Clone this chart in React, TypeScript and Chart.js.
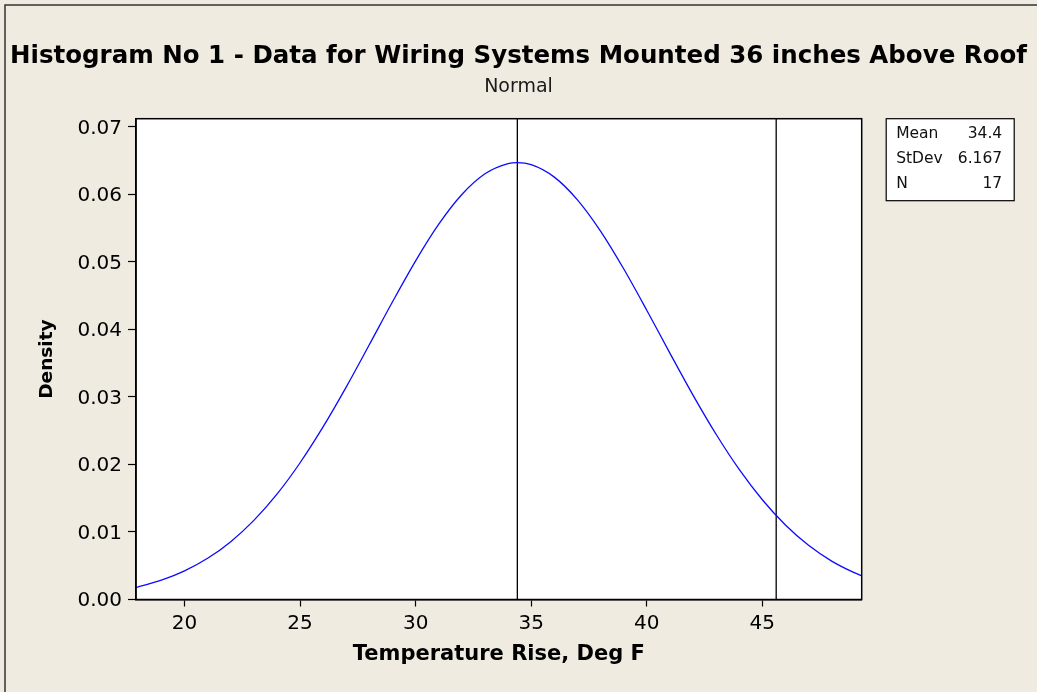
import React, { useEffect, useRef } from "react";
import { Chart, registerables } from "chart.js";

Chart.register(...registerables);

// ---- data ----
const titleText = "Histogram No 1 - Data for Wiring Systems Mounted 36 inches Above Roof";
const subtitleText = "Normal";
const xAxisTitle = "Temperature Rise, Deg F";
const yAxisTitle = "Density";

const temperature = [
  17.9, 18, 19, 20, 21, 22, 23, 24, 25, 26, 27, 28, 29, 30, 31, 32, 33, 34, 34.4,
  35, 36, 37, 38, 39, 40, 41, 42, 43, 44, 45, 46, 47, 48, 49, 49.3,
];
const density = [
  0.0018, 0.00188, 0.00286, 0.00424, 0.0061, 0.00857, 0.01172, 0.0156, 0.02025,
  0.02559, 0.03149, 0.03776, 0.04409, 0.05015, 0.05557, 0.05997, 0.06304, 0.06455,
  0.06469, 0.06439, 0.06255, 0.05919, 0.05456, 0.04898, 0.04284, 0.03649, 0.03027,
  0.02447, 0.01926, 0.01477, 0.01103, 0.00802, 0.00569, 0.00393, 0.00349,
];
const referenceLines = [34.4, 45.6];

const xRange = [17.9, 49.3];
const yRange = [0, 0.0712];
const xTickValues = [20, 25, 30, 35, 40, 45];
const yTickValues = [0, 0.01, 0.02, 0.03, 0.04, 0.05, 0.06, 0.07];

const statLabels = ["Mean", "StDev", "N"];
const statValues = ["34.4", "6.167", "17"];

const FONT = "'DejaVu Sans', 'Noto Sans', sans-serif";

export default function App() {
  const canvasRef = useRef<HTMLCanvasElement | null>(null);

  useEffect(() => {
    const canvas = canvasRef.current;
    if (!canvas) return;

    const backgroundPlugin = {
      id: "bgPlugin",
      beforeDraw(chart: any) {
        const { ctx, chartArea } = chart;
        ctx.save();
        ctx.fillStyle = "#EFEBE1";
        ctx.fillRect(0, 0, chart.width, chart.height);
        ctx.fillStyle = "#FFFFFF";
        ctx.fillRect(chartArea.left, chartArea.top, chartArea.right - chartArea.left, chartArea.bottom - chartArea.top);
        ctx.strokeStyle = "#333333";
        ctx.lineWidth = 1.5;
        ctx.beginPath();
        ctx.moveTo(5, chart.height);
        ctx.lineTo(5, 5);
        ctx.lineTo(chart.width, 5);
        ctx.stroke();
        ctx.restore();
      },
    };

    const framePlugin = {
      id: "framePlugin",
      afterDatasetsDraw(chart: any) {
        const { ctx, chartArea } = chart;
        ctx.save();
        ctx.strokeStyle = "#000000";
        ctx.lineWidth = 1.5;
        ctx.strokeRect(chartArea.left, chartArea.top, chartArea.right - chartArea.left, chartArea.bottom - chartArea.top);
        ctx.restore();
      },
    };

    const statsPlugin = {
      id: "statsPlugin",
      afterDraw(chart: any) {
        const { ctx, chartArea } = chart;
        const boxLeft = chartArea.right + 24.5;
        const boxTop = chartArea.top;
        const boxW = 128;
        const boxH = 82;
        ctx.save();
        ctx.fillStyle = "#FFFFFF";
        ctx.fillRect(boxLeft, boxTop, boxW, boxH);
        ctx.strokeStyle = "#000000";
        ctx.lineWidth = 1.2;
        ctx.strokeRect(boxLeft, boxTop, boxW, boxH);
        ctx.font = `15.5px ${FONT}`;
        ctx.fillStyle = "#111111";
        ctx.textBaseline = "middle";
        statLabels.forEach((lab, i) => {
          const y = boxTop + 15.5 + i * 25;
          ctx.textAlign = "left";
          ctx.fillText(lab, boxLeft + 10, y);
          ctx.textAlign = "right";
          ctx.fillText(statValues[i], boxLeft + boxW - 12, y);
        });
        ctx.restore();
      },
    };

    const datasets: any[] = [
      {
        label: "Normal",
        data: temperature.map((t, i) => ({ x: t, y: density[i] })),
        borderColor: "#0B0BFF",
        borderWidth: 1.3,
        pointRadius: 0,
        cubicInterpolationMode: "monotone",
        fill: false,
      },
      ...referenceLines.map((v) => ({
        label: "ref " + v,
        data: [
          { x: v, y: yRange[0] },
          { x: v, y: yRange[1] },
        ],
        borderColor: "#000000",
        borderWidth: 1.3,
        pointRadius: 0,
        fill: false,
      })),
    ];

    const chart = new Chart(canvas, {
      type: "line",
      data: { datasets },
      plugins: [backgroundPlugin, framePlugin, statsPlugin],
      options: {
        animation: false,
        responsive: false,
        maintainAspectRatio: false,
        layout: { padding: { left: 0, right: 0, top: 0, bottom: 0 } },
        plugins: {
          legend: { display: false },
          tooltip: { enabled: false },
          title: {
            display: true,
            text: titleText,
            color: "#000000",
            font: { family: FONT, size: 24.5, weight: "bold", lineHeight: 1.2 },
            padding: { top: 42, bottom: 0 },
          },
          subtitle: {
            display: true,
            text: subtitleText,
            color: "#1a1a1a",
            font: { family: FONT, size: 19, weight: "normal", lineHeight: 1.2 },
            padding: { top: 4.5, bottom: 20 },
          },
        },
        scales: {
          x: {
            type: "linear",
            min: xRange[0],
            max: xRange[1],
            afterBuildTicks: (scale: any) => {
              scale.ticks = xTickValues.map((v) => ({ value: v }));
            },
            afterFit: (scale: any) => {
              scale.height = 92.5;
            },
            ticks: {
              color: "#000000",
              font: { family: FONT, size: 20 },
              padding: 5,
              maxRotation: 0,
              autoSkip: false,
              callback: (v: any) => String(v),
            },
            grid: {
              display: true,
              drawOnChartArea: false,
              drawTicks: true,
              tickLength: 7,
              tickColor: "#000000",
              tickWidth: 1.2,
            },
            border: { display: true, color: "#000000", width: 1.5 },
            title: {
              display: true,
              text: xAxisTitle,
              color: "#000000",
              font: { family: FONT, size: 21, weight: "bold", lineHeight: 1.2 },
              padding: { top: 0, bottom: 25 },
            },
          },
          y: {
            type: "linear",
            position: "left",
            min: yRange[0],
            max: yRange[1],
            afterBuildTicks: (scale: any) => {
              scale.ticks = yTickValues.map((v) => ({ value: v }));
            },
            afterFit: (scale: any) => {
              scale.width = 136;
            },
            ticks: {
              color: "#000000",
              font: { family: FONT, size: 20 },
              padding: 6,
              labelOffset: 1.5,
              autoSkip: false,
              callback: (v: any) => Number(v).toFixed(2),
            },
            grid: {
              display: true,
              drawOnChartArea: false,
              drawTicks: true,
              tickLength: 8,
              tickColor: "#000000",
              tickWidth: 1.2,
            },
            border: { display: true, color: "#000000", width: 1.5 },
            title: {
              display: true,
              text: yAxisTitle,
              color: "#000000",
              font: { family: FONT, size: 18.5, weight: "bold", lineHeight: 1.2 },
              padding: { top: 36, bottom: 0 },
            },
          },
          yRightSpace: {
            type: "linear",
            position: "right",
            display: true,
            min: yRange[0],
            max: yRange[1],
            afterFit: (scale: any) => {
              scale.width = 175.3;
            },
            ticks: { display: false },
            grid: { display: false, drawTicks: false },
            border: { display: false },
          },
        },
      } as any,
    });

    return () => {
      chart.destroy();
    };
  }, []);

  return (
    <div style={{ position: "absolute", left: 0, top: 0, width: 1037, height: 692, background: "#EFEBE1" }}>
      <canvas ref={canvasRef} width={1037} height={692} style={{ display: "block", width: 1037, height: 692 }} />
    </div>
  );
}
